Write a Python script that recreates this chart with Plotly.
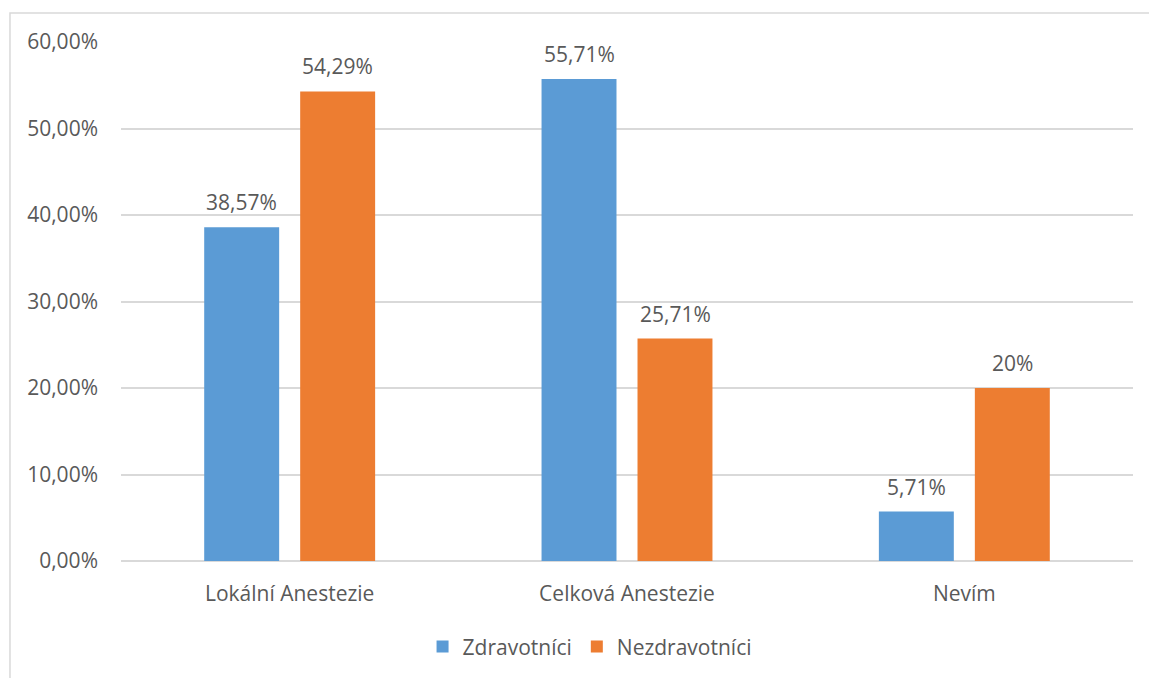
import plotly.graph_objects as go

categories = ["Lokální Anestezie", "Celková Anestezie", "Nevím"]
zdravotnici = [0.3857, 0.5571, 0.0571]
nezdravotnici = [0.5429, 0.2571, 0.20]
zdravotnici_labels = ["38,57%", "55,71%", "5,71%"]
nezdravotnici_labels = ["54,29%", "25,71%", "20%"]
y_ticks = [0, 0.1, 0.2, 0.3, 0.4, 0.5, 0.6]

FONT = "Open Sans"
SIZE = 21
TEXT_COLOR = "#595959"
GRID = "#d9d9d9"

fig = go.Figure()
fig.add_trace(go.Bar(
    name="Zdravotníci", x=categories, y=zdravotnici,
    marker=dict(color="#5b9bd5", line=dict(width=0)),
))
fig.add_trace(go.Bar(
    name="Nezdravotníci", x=categories, y=nezdravotnici,
    marker=dict(color="#ed7d31", line=dict(width=0)),
))

# value labels above each bar, shifted to the bar's slot within the group
annotations = []
for series, labels, shift in [(zdravotnici, zdravotnici_labels, -48),
                              (nezdravotnici, nezdravotnici_labels, 48)]:
    for cat, val, lab in zip(categories, series, labels):
        annotations.append(dict(
            x=cat, y=val, xref="x", yref="y", text=lab, showarrow=False,
            xshift=shift, yshift=25, yanchor="middle",
            font=dict(family=FONT, size=SIZE, color=TEXT_COLOR),
        ))

fig.update_layout(
    width=1149, height=678,
    margin=dict(l=121, r=16, t=42, b=116),
    paper_bgcolor="white", plot_bgcolor="white",
    barmode="group", bargap=0.431, bargroupgap=0.219,
    separators=", ",
    font=dict(family=FONT, size=SIZE, color=TEXT_COLOR),
    showlegend=True,
    legend=dict(orientation="h", x=0.463, xanchor="center", y=-0.163, yanchor="middle",
                font=dict(family=FONT, size=SIZE, color=TEXT_COLOR),
                itemsizing="constant", traceorder="normal"),
    xaxis=dict(showgrid=False, showline=False, ticks="", ticklabelstandoff=18,
               tickfont=dict(size=SIZE)),
    yaxis=dict(range=[0, 0.6], tickvals=y_ticks, tickformat=".2%",
               showgrid=True, gridcolor=GRID, gridwidth=1.5,
               zeroline=True, zerolinecolor=GRID, zerolinewidth=1.5,
               showline=False, ticks="", ticklabelstandoff=22, tickfont=dict(size=SIZE)),
    annotations=annotations,
    shapes=[dict(type="rect", xref="paper", yref="paper",
                 x0=-0.1097, x1=1.05, y0=-0.3, y1=1.0558,
                 line=dict(color=GRID, width=1.5), fillcolor="rgba(0,0,0,0)", layer="below")],
)

fig.write_html("out.html")
